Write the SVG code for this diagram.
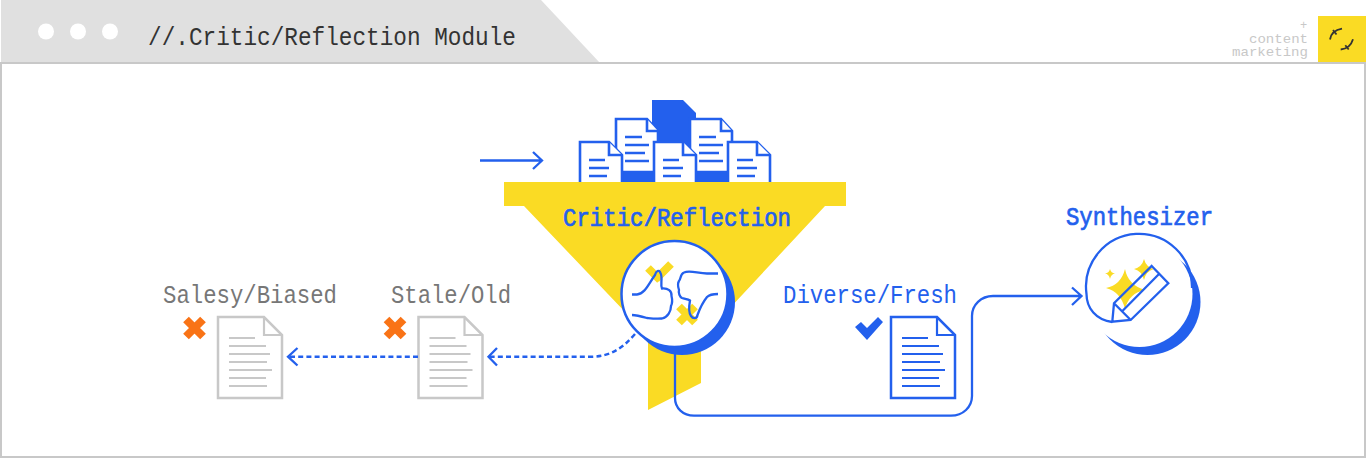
<svg xmlns="http://www.w3.org/2000/svg" xmlns:xlink="http://www.w3.org/1999/xlink" width="1366" height="458" viewBox="0 0 1366 458">
<style>
.t{font-family:"Liberation Mono","DejaVu Sans Mono",monospace;font-size:25.500px}
.sb{stroke:#2360ed;stroke-width:.7}
.b{fill:#2360ed}.y{fill:#fadb24}
.ln{fill:none;stroke:#2360ed;stroke-width:2.300}
.doc{fill:#fff;stroke:currentColor;stroke-width:2.500}
.dl{fill:none;stroke:currentColor;stroke-width:2.200}
.mini{fill:#fff;stroke:#2360ed;stroke-width:2.600}
.dash{stroke-dasharray:5 3.2;stroke-width:2.500}
.x{fill:none;stroke:#f97316;stroke-width:8}
.yx{fill:none;stroke:#fadb24;stroke-width:8}
</style>
<defs>
<g id="doc"><path class="doc" d="M218 317H264L282 335V398H218Z"/><path class="dl" d="M264 317V335H282M229 338H255M229 346H266M229 354H270M229 362H267M229 370H272M229 378H266M229 386H267"/></g>
<g id="miniA"><path class="mini" d="M580 186V142H609L622 155V186Z"/><path class="mini" d="M609 142V155H622" fill="none"/><path class="ln" d="M589 160H605M589 168H609M589 176H607"/></g>
<g id="miniB"><path class="mini" d="M616 172V119H647L658 131V172Z"/><path class="mini" d="M647 119V131H658" fill="none"/><path class="ln" d="M625 137H642M625 145H649M625 153H645M625 161H649"/></g>
</defs>
<g id="frame">
<path d="M1 0H541L600 63H1Z" fill="#e0e0e0"/>
<rect x="1" y="63" width="1364" height="394" fill="#fff" stroke="#c8c8c8" stroke-width="2"/>
<circle cx="46" cy="31.500" r="8" fill="#fff"/><circle cx="78" cy="31.500" r="8" fill="#fff"/><circle cx="110" cy="31.500" r="8" fill="#fff"/>
<text x="148" y="44.500" class="t" fill="#333" textLength="368" lengthAdjust="spacingAndGlyphs">//.Critic/Reflection Module</text>
</g>
<g id="logo">
<rect x="1318" y="16" width="48" height="46" fill="#fadb24"/>
<path d="M1330 39.500C1331 33 1335 30 1342 28.700M1333 30L1336.500 34.500M1340.700 49.500C1347 49 1351 46 1353 39.300M1345.300 45.300L1348.700 49.500" fill="none" stroke="#333" stroke-width="1.800"/>
<g font-family="'Liberation Mono',monospace" font-size="12" fill="#c8c8c8">
<text x="1300" y="29">+</text>
<text x="1249" y="42.500" textLength="59" lengthAdjust="spacingAndGlyphs" font-size="13">content</text>
<text x="1232" y="56" textLength="76" lengthAdjust="spacingAndGlyphs" font-size="13">marketing</text></g>
</g>
<g id="docs-stack">
<path class="b" d="M652 100H683L696 113V150H652Z"/>
<rect class="b" x="621" y="170" width="106" height="14"/>
<use xlink:href="#miniB"/><use xlink:href="#miniB" x="74"/>
<use xlink:href="#miniA"/><use xlink:href="#miniA" x="74"/><use xlink:href="#miniA" x="148"/>
</g>
<g id="funnel">
<path class="y" d="M504 182H846V206H825L701 339V383L648 410V336L524 206H504Z"/>
<text x="563" y="226" class="t b sb" textLength="228" lengthAdjust="spacingAndGlyphs">Critic/Reflection</text>
</g>
<g id="critic">
<circle cx="682" cy="302" r="53" class="b"/>
<circle cx="674.500" cy="294" r="53" fill="#fff" stroke="#2360ed" stroke-width="2.500"/>
<path class="yx" d="M671 264L656 279M648 268L660 280M679 306.500L695 322.500M695 306.500L679 322.500"/>
<path class="ln" d="M632 294.500H637C645 294 649 283 655 275C656 271 659 269 660.500 273C663 278 660 284 662 288.500C668 288 672 291 671.500 296C672.500 300 672 304 671 306C671 311 668 317 662 318.500C656 319 652 318.500 647 318C640 316 636 315 632 315"/>
<path class="ln" d="M718 273.500H707C698 273.500 690 270 684 272.500C680 274 681 279 679 281C677 284 678 287 679 290C678 293 680 297 682 298C685 299 688 299 690 300.500C689 306 688 312 691 316C693 319 697 319 697.500 315C700 308 703 302 707 297C710 294 714 294 718 294"/>
</g>
<g id="input-arrow"><path class="ln" d="M480 160.500H542M533 152L542 160.500L533 169"/></g>
<g id="salesy" color="#c8c8c8">
<use xlink:href="#doc"/>
<path class="x" d="M186 319.500L203 336.500M203 319.500L186 336.500"/>
<text x="163" y="302.700" class="t" fill="#777" textLength="174" lengthAdjust="spacingAndGlyphs">Salesy/Biased</text>
</g>
<g id="stale" color="#c8c8c8">
<use xlink:href="#doc" x="200.500"/>
<path class="x" d="M386.500 319.500L403.500 336.500M403.500 319.500L386.500 336.500"/>
<text x="391" y="302.700" class="t" fill="#777" textLength="120" lengthAdjust="spacingAndGlyphs">Stale/Old</text>
</g>
<g id="diverse" color="#2360ed">
<use xlink:href="#doc" x="673"/>
<path class="b" d="M855 327L861 322L867 328L878 317L883 322L867 340Z"/>
<text x="783" y="302.700" class="t b" textLength="174" lengthAdjust="spacingAndGlyphs">Diverse/Fresh</text>
</g>
<g id="synth">
<circle cx="1147.500" cy="302" r="53" class="b"/>
<circle cx="1139.500" cy="294" r="53" fill="#fff"/>
<path class="ln" d="M1112.300 322C1096 320 1086.500 308 1086.500 294A53 53 0 1 1 1192 288"/>
<path class="y" d="M1125 269Q1128 285 1145 290Q1129 293 1125 309Q1121 292 1106 288Q1121 285 1125 269Z"/>
<path class="y" d="M1110 269Q1111 273 1115 273.500Q1111 274 1110 279Q1109 274 1105 273.500Q1109 273 1110 269Z"/>
<path class="y" d="M1144 259Q1146 267 1154 269Q1146 271 1144 280Q1142 271 1134 269Q1142 267 1144 259Z"/>
<path fill="#fff" d="M1159 274L1168.300 283.300L1130.700 320L1121.700 311.700Z"/>
<path class="ln" d="M1151.700 266L1168.300 283.300L1130.700 320L1112.300 321.700L1114 303.300ZM1159 274L1121.700 311.700M1114 303.300L1130.700 320"/>
<text x="1066" y="225" class="t b sb" textLength="147" lengthAdjust="spacingAndGlyphs">Synthesizer</text>
</g>
<g id="connectors">
<path class="ln dash" d="M635 334C622 349 610 356.700 590 356.700H489"/>
<path class="ln" d="M497 348L488.500 356.700L497 365.500"/>
<path class="ln dash" d="M418 356.700H289"/>
<path class="ln" d="M297.500 348L288 356.700L297.500 365.500"/>
<path class="ln" d="M675 354V398C675 408 683 415.700 694 415.700H951C963 415.700 972 407 972 396V316C972 305 981 296 993 296H1081M1072 287.500L1081.500 296L1072 305"/>
</g>
</svg>
